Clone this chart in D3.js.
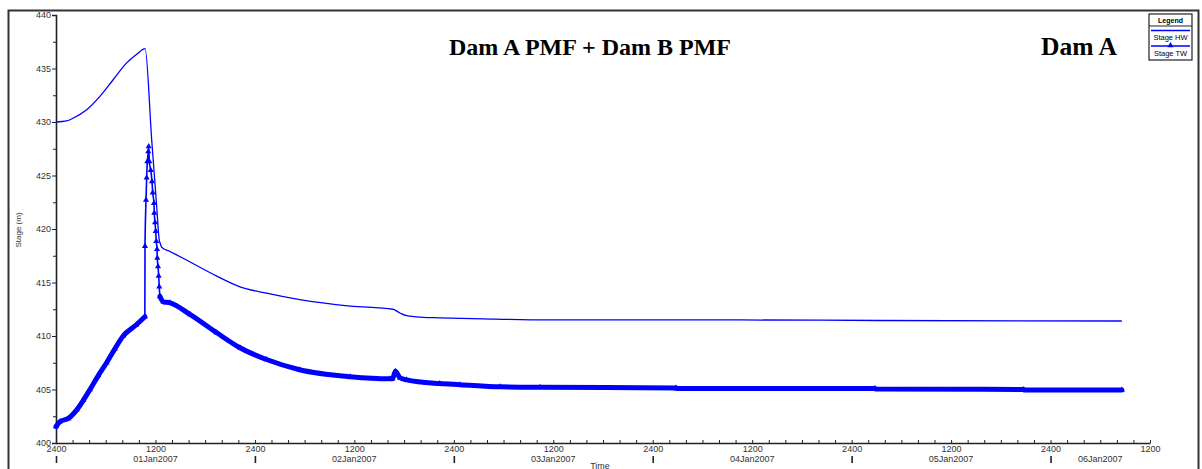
<!DOCTYPE html>
<html>
<head>
<meta charset="utf-8">
<script src="https://cdn.jsdelivr.net/npm/d3@7"></script>
<style>
  body { margin: 0; background: #fff; }
  svg { display: block; font-family: "Liberation Sans", Arial, sans-serif; }
</style>
</head>
<body>
<svg id="chart" width="1202" height="469"></svg>
<script>
// hours after 31Dec2006 2400
const hwHours = [0, 1.3, 2.1, 3.7, 5.3, 6.9, 8.5, 9.7, 10.75, 11.55, 12.15, 12.45, 12.6, 12.75, 13.75, 15.75, 19.4, 22.2, 25.4, 29.4, 35.5, 40.65, 41.5, 42.3, 44.3, 46.3, 51.5, 59.4, 82.5, 99.4, 128.6];
const hwStage = [430.0, 430.1, 430.37, 431.15, 432.4, 433.95, 435.5, 436.3, 436.85, 428.3, 422.1, 419.0, 418.6, 418.3, 417.9, 417.1, 415.6, 414.6, 414.0, 413.4, 412.8, 412.5, 412.15, 411.9, 411.75, 411.7, 411.6, 411.5, 411.5, 411.45, 411.4];

const twHours = [0, 0.5, 1.5, 2.5, 3.3, 4.1, 5.1, 6.1, 7.1, 8.1, 9.7, 10.72,
  10.74, 10.86, 10.94, 11.02, 11.14, 11.18, 11.26, 11.43, 11.58, 11.67, 11.82, 11.86, 11.95, 12.03, 12.1, 12.19, 12.22, 12.31, 12.39, 12.46, 12.55,
  12.95, 13.76, 16.2, 19.4, 22.2, 25.4, 29.4, 35.5, 40.3, 40.6, 40.95, 41.5, 42.3, 46.3, 48.75, 53.6, 58.4, 74.8, 74.9, 98.8, 98.9, 116.7, 116.8, 128.6];
const twStage = [401.55, 402.0, 402.3, 403.1, 404.0, 405.0, 406.3, 407.5, 408.8, 410.0, 411.05, 411.8,
  418.4, 422.7, 424.8, 426.3, 427.25, 427.7, 426.3, 425.5, 424.45, 423.4, 422.4, 421.5, 420.6, 419.8, 418.85, 418.1, 417.3, 416.5, 415.6, 414.6, 413.7,
  413.2, 413.1, 412.0, 410.3, 408.9, 407.8, 406.85, 406.2, 406.0, 406.0, 406.7, 406.1, 405.9, 405.55, 405.45, 405.25, 405.2, 405.15, 405.1, 405.1, 405.05, 405.0, 404.95, 404.95];

const yTicks = [400, 405, 410, 415, 420, 425, 430, 435, 440];
const yMinor = [402.5, 407.5, 412.5, 417.5, 422.5, 427.5, 432.5, 437.5];
const endHours = 132;

const svg = d3.select("svg#chart");
const blue = "#0000ff";

const t0 = new Date(2007, 0, 1, 0, 0);
const toDate = h => new Date(t0.getTime() + h * 3600e3);

const x = d3.scaleTime().domain([t0, toDate(endHours)]).range([56, 1150]);
const y = d3.scaleLinear().domain([400, 440]).range([443, 15]);

// outer frame
svg.append("rect")
    .attr("x", 8.5).attr("y", 10.5)
    .attr("width", 1190).attr("height", 480)
    .attr("fill", "none")
    .attr("stroke", "#333")
    .attr("stroke-width", 2);

// y axis
const yAxis = svg.append("g")
    .attr("transform", "translate(56,0)")
    .call(d3.axisLeft(y).tickValues(yTicks).tickSize(4).tickPadding(1).tickFormat(d3.format("d")));
svg.append("g")
    .attr("transform", "translate(56,0)")
    .call(d3.axisLeft(y).tickValues(yMinor).tickSize(3).tickFormat(""))
    .select(".domain").remove();

// x axis: minor ticks every 2 h pointing up
const xAxis = svg.append("g")
    .attr("transform", "translate(0,443)")
    .call(d3.axisBottom(x).ticks(d3.timeHour.every(2)).tickSizeInner(-3).tickSizeOuter(0).tickFormat(""));
// labels every 12 h
svg.append("g")
    .attr("transform", "translate(0,443)")
    .call(d3.axisBottom(x).ticks(d3.timeHour.every(12)).tickSize(0).tickPadding(3)
        .tickFormat(d => d.getHours() === 0 ? "2400" : "1200"))
    .select(".domain").remove();
// day markers below
svg.append("g")
    .attr("transform", "translate(0,456)")
    .call(d3.axisBottom(x).ticks(d3.timeDay.every(1)).tickSize(7).tickFormat(""))
    .call(g => g.select(".domain").remove())
    .selectAll("line").attr("stroke-width", 1.6);

[yAxis, xAxis].forEach(g => g.select(".domain").attr("stroke", "#222").attr("stroke-width", 1.6));
svg.selectAll(".tick text").attr("font-size", 9).attr("fill", "#333").attr("font-family", "Liberation Sans, Arial, sans-serif");
svg.selectAll(".tick line").attr("stroke", "#222");

// date labels centred in each visible day
const domain = x.domain();
const days = d3.timeDay.range(domain[0], domain[1]);
svg.append("g").selectAll("text")
    .data(days)
    .enter().append("text")
    .attr("x", d => {
        const a = d3.max([d, domain[0]]);
        const b = d3.min([d3.timeDay.offset(d, 1), domain[1]]);
        return (x(a) + x(b)) / 2;
    })
    .attr("y", 462)
    .attr("text-anchor", "middle")
    .attr("font-size", 9)
    .attr("fill", "#333")
    .text(d3.timeFormat("%d%b%Y"));

svg.append("text")
    .attr("x", 600).attr("y", 469)
    .attr("text-anchor", "middle")
    .attr("font-size", 9).attr("fill", "#333")
    .text("Time");

svg.append("text")
    .attr("transform", "translate(21,230) rotate(-90)")
    .attr("text-anchor", "middle")
    .attr("font-size", 8).attr("fill", "#333")
    .text("Stage (m)");

// titles
svg.append("text")
    .attr("x", 590).attr("y", 55)
    .attr("text-anchor", "middle")
    .style("font-family", "'Liberation Serif', 'Times New Roman', serif")
    .style("font-weight", "bold").style("font-size", "24px")
    .text("Dam A PMF + Dam B PMF");
svg.append("text")
    .attr("x", 1041).attr("y", 55)
    .style("font-family", "'Liberation Serif', 'Times New Roman', serif")
    .style("font-weight", "bold").style("font-size", "25.5px")
    .text("Dam A");

// series
const hw = hwHours.map((h, i) => ({t: toDate(h), v: hwStage[i]}));
const tw = twHours.map((h, i) => ({t: toDate(h), v: twStage[i]}));

const line = d3.line().x(d => x(d.t)).y(d => y(d.v)).curve(d3.curveMonotoneX);

svg.append("path")
    .datum(hw)
    .attr("d", line)
    .attr("fill", "none")
    .attr("stroke", blue)
    .attr("stroke-width", 1.3);

// TW: in the source the dense markers form a band where the line is gentle
const steep = (a, b) => Math.abs(y(b.v) - y(a.v)) > 4 * Math.abs(x(b.t) - x(a.t));
tw.forEach((d, i) => {
    const prev = i > 0 && steep(tw[i - 1], d);
    const next = i < tw.length - 1 && steep(d, tw[i + 1]);
    d.band = !(prev && next) && !(prev && i === tw.length - 1);
});

svg.append("path")
    .datum(tw)
    .attr("d", line)
    .attr("fill", "none")
    .attr("stroke", blue)
    .attr("stroke-width", 1.6);

svg.append("path")
    .datum(tw)
    .attr("d", d3.line().defined(d => d.band).x(d => x(d.t)).y(d => y(d.v)).curve(d3.curveMonotoneX))
    .attr("fill", "none")
    .attr("stroke", blue)
    .attr("stroke-linecap", "round")
    .attr("stroke-linejoin", "round")
    .attr("stroke-width", 5);

const tri = d3.symbol().type(d3.symbolTriangle).size(16);
svg.append("g").selectAll("path")
    .data(tw)
    .enter().append("path")
    .attr("transform", d => `translate(${x(d.t)},${y(d.v)})`)
    .attr("d", tri)
    .attr("fill", blue);

// legend
const lg = svg.append("g").attr("transform", "translate(1149,14)");
lg.append("rect").attr("width", 43).attr("height", 46)
    .attr("fill", "#fff").attr("stroke", "#222").attr("stroke-width", 1.2);
lg.append("line").attr("x1", 0).attr("x2", 43).attr("y1", 12).attr("y2", 12)
    .attr("stroke", "#222").attr("stroke-width", 1.2);
lg.append("text").attr("x", 21.5).attr("y", 9).attr("text-anchor", "middle")
    .attr("font-size", 7).attr("font-weight", "bold").text("Legend");
lg.append("line").attr("x1", 2).attr("x2", 41).attr("y1", 16.5).attr("y2", 16.5)
    .attr("stroke", blue).attr("stroke-width", 1.3);
lg.append("text").attr("x", 21.5).attr("y", 26).attr("text-anchor", "middle")
    .attr("font-size", 7.5).text("Stage HW");
lg.append("line").attr("x1", 2).attr("x2", 41).attr("y1", 32).attr("y2", 32)
    .attr("stroke", blue).attr("stroke-width", 1.3);
lg.append("path").attr("transform", "translate(21.5,31.5)").attr("d", tri).attr("fill", blue);
lg.append("text").attr("x", 21.5).attr("y", 42).attr("text-anchor", "middle")
    .attr("font-size", 7.5).text("Stage TW");
</script>
</body>
</html>
